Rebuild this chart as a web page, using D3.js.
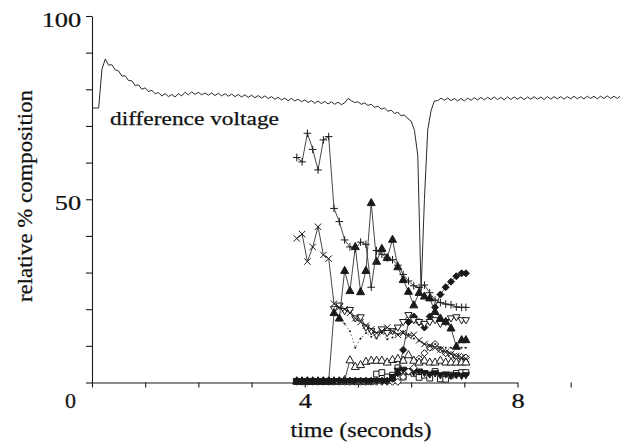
<!DOCTYPE html>
<html><head><meta charset="utf-8">
<script src="https://cdn.jsdelivr.net/npm/d3@7"></script>
<style>
body{margin:0;background:#fff}
svg{display:block}
text{font-family:"Liberation Serif","Times New Roman",serif;fill:#111;stroke:#111;stroke-width:0.25px}
</style>
</head><body>
<svg id="c" width="620" height="443"></svg>
<script>
// ---------- data ----------
const voltStart = 0, voltStep = 0.0625;   // sampling grid of the voltage trace (s)
const voltage = [
74.9,74.9,74.9,85.5,88.3,86.6,86.7,85.3,85.0,83.6,83.7,82.4,82.3,81.0,81.2,80.0,
80.4,79.4,79.7,78.8,79.1,78.2,78.8,78.0,78.6,77.9,78.8,78.2,79.2,78.5,79.3,78.6,
79.2,78.5,79.0,78.4,79.0,78.3,78.9,78.2,78.8,78.1,78.7,78.0,78.6,77.9,78.5,77.8,
78.4,77.7,78.3,77.6,78.2,77.5,78.0,77.3,77.8,77.1,77.6,76.9,77.5,76.8,77.3,76.6,
77.1,76.4,76.9,76.2,76.8,76.1,76.7,76.0,76.6,75.9,76.5,75.8,76.3,77.5,76.9,76.4,
76.6,75.9,76.3,75.6,75.9,75.1,75.4,74.6,74.9,74.0,74.3,73.4,73.7,72.8,73.0,72.0,
71.3,68.8,62.0,25.0,50.0,69.0,74.2,76.8,76.9,77.6,77.0,77.6,76.9,77.5,76.8,77.5,
76.8,77.6,77.0,77.7,77.1,77.8,77.1,77.8,77.2,77.9,77.2,77.8,77.1,77.9,77.2,77.9,
77.3,77.9,77.2,77.9,77.3,78.0,77.3,77.9,77.2,78.0,77.3,78.0,77.4,78.0,77.3,78.0,
77.4,78.1,77.4,78.0,77.4,78.1,77.5,78.1,77.4,78.1,77.5,78.2,77.5,78.1,77.5,78.2
];
const compTime = [3.85,3.95,4.05,4.15,4.25,4.35,4.45,4.55,4.65,4.75,4.85,4.95,5.05,5.15,5.25,5.35,
  5.45,5.55,5.65,5.75,5.85,5.95,6.05,6.15,6.25,6.35,6.45,6.55,6.65,6.75,6.85,6.95,7.03];
const plusSeries = [61.4,60.2,68,63.6,58,66.2,67.1,47.5,43.9,38.9,37,36.5,38.3,37.7,26,36,35,34,33.5,32,29.5,27.7,26.4,25.9,26.6,24.5,22.5,21.8,21.4,21.2,20.6,20.5,20.5];
const crossSeries = [39.3,40.5,33,37,42.5,34.8,33.8,21.5,20.5,20,19,17.5,16.5,15.5,14.5,13.5,14,15,14,13,13.5,12.7,13,11.5,10.5,10,9.5,9,8.3,7.8,7.2,6.8,6.5];
const triUpFilled = [0.3,0.3,0.3,0.3,0.3,0.3,0.3,19,17.5,30.5,25,37,24.7,30.5,49,33,36.5,34,39,31.5,28,24.8,21.1,24.5,23.5,23,19.3,17.5,16.6,14.8,9.8,11.6,11.6];
const triDownOpen = [null,null,null,null,null,null,null,20,21,19.5,19.8,17.5,17.8,15,14,13,14.5,13.5,14,15,16.5,18.4,17,16.5,16,16.5,17,16,16.5,17.5,17.8,17,17];
const dotSeries = [null,null,null,null,null,null,null,null,17,16,14,9.5,12,13.5,12.5,12,13.5,11.8,12.3,13.2,14,13.2,12,11.4,10.5,10,10.5,9.5,9.5,9.5,9.5,9.5,9.5];
const triUpOpen = [0.4,0.4,0.4,0.4,0.4,0.4,0.4,0.4,0.4,0.7,6.1,4.3,4.8,5.7,6,6,6,5.5,6.2,6.5,6,7.5,6,5.5,6,5.5,5.5,6,5.5,5.5,5.5,5.5,5.5];
const diamondFilled = [0.5,0.5,0.5,0.5,0.5,0.5,0.5,0.5,0.5,0.5,0.5,0.5,0.5,0.5,0.5,0.5,0.5,0.5,1,2.5,8.9,16.5,18,16.5,15,18,20.5,24,26,27.5,29,29.8,29.8];
const diamondOpen = [0.2,0.2,0.2,0.2,0.2,0.2,0.2,0.2,0.2,0.2,0.2,0.2,0.2,0.2,0.2,0.2,0.2,0.2,0.2,0.2,1.5,3,4,6.5,8,9.5,10.5,9,8,7.5,7,7,6.8];
const squareOpen = [0.3,0.3,0.3,0.3,0.3,0.3,0.3,0.3,0.3,0.3,0.3,0.3,0.3,0.3,0.3,2.3,2.7,1.5,2,4,1.5,3,2.5,1.4,2,1.2,3,1,0.9,2,2.5,2.7,2.7];
const triDownFilled = [0.4,0.4,0.4,0.4,0.4,0.4,0.4,0.4,0.4,0.4,0.4,0.4,0.4,0.4,0.4,0.4,0.4,0.4,1.5,3.2,3.5,3,2.8,3,2.6,2.2,2.5,2,2.2,1.8,2,1.8,2];

const yTickValues = [0,10,20,30,40,50,60,70,80,90,100];
const yTickLabels = {50:"50",100:"100"};
const xTickValues = [0,1,2,3,4,5,6,7,8,9,10];
const xTickLabels = {4:"4",8:"8"};
const originLabel = "0";
const curveLabel = "difference voltage";
const xTitle = "time (seconds)";
const yTitle = "relative % composition";

// ---------- drawing ----------
const svg = d3.select("#c");
const x = d3.scaleLinear().domain([0, 8]).range([92, 517.5]);
const y = d3.scaleLinear().domain([0, 100]).range([382.5, 16]);
const ink = "#1a1a1a";

// axes
const gy = svg.append("g").attr("transform", `translate(${x(0)},0)`)
  .call(d3.axisLeft(y).tickValues(yTickValues).tickSize(6).tickSizeOuter(0)
    .tickFormat(d => yTickLabels[d] || ""));
const gx = svg.append("g").attr("transform", `translate(0,${y(0)})`)
  .call(d3.axisBottom(x).tickValues(xTickValues).tickSize(5).tickSizeOuter(0)
    .tickFormat(d => xTickLabels[d] || ""));
[gx, gy].forEach(g => {
  g.select(".domain").attr("stroke", ink).attr("stroke-width", 1.1);
  g.selectAll(".tick line").attr("stroke", ink).attr("stroke-width", 1.1);
  g.selectAll(".tick text").attr("font-size", 22);
});
gy.selectAll(".tick text").attr("x", -9).attr("dy", "0.47em").attr("transform", "scale(1.2,1)");
gx.selectAll(".tick text").attr("x", 0).attr("y", 10).attr("dy", "0.71em").attr("transform", "scale(1.2,1)");
svg.append("text").attr("x", x(0) - 21.5).attr("y", y(0) + 25.5)
  .attr("text-anchor", "middle").attr("font-size", 22)
  .attr("textLength", 11).attr("lengthAdjust", "spacingAndGlyphs").text(originLabel);

// voltage trace
const vData = voltage.map((v, i) => [voltStart + i * voltStep, v]);
svg.append("path").datum(vData)
  .attr("fill", "none").attr("stroke", "#2a2a2a").attr("stroke-width", 1)
  .attr("d", d3.line().x(d => x(d[0])).y(d => y(d[1])));

// composition series
const gray = "#333";
const shapes = {
  plus: "M-3.8,0H3.8M0,-3.8V3.8",
  cross: "M-3.2,-3.2L3.2,3.2M-3.2,3.2L3.2,-3.2",
  triUp: "M0,-4.4L4,2.7L-4,2.7Z",
  triDown: "M0,3.7L3.6,-2.5L-3.6,-2.5Z",
  diamond: "M0,-3.5L3.5,0L0,3.5L-3.5,0Z",
  square: "M-2.9,-2.9H2.9V2.9H-2.9Z"
};
const series = [
  {vals: squareOpen,   shape: "square",  fill: "#fff", dash: null},
  {vals: triDownFilled,shape: "triDown", fill: ink,    dash: null},
  {vals: diamondOpen,  shape: "diamond", fill: "#fff", dash: null},
  {vals: triUpOpen,    shape: "triUp",   fill: "#fff", dash: null},
  {vals: dotSeries,    shape: "dot",     fill: ink,    dash: "1.2,2.6"},
  {vals: diamondFilled,shape: "diamond", fill: ink,    dash: null},
  {vals: triDownOpen,  shape: "triDown", fill: "#fff", dash: null},
  {vals: crossSeries,  shape: "cross",   fill: "none", dash: null},
  {vals: triUpFilled,  shape: "triUp",   fill: ink,    dash: null},
  {vals: plusSeries,   shape: "plus",    fill: "none", dash: null}
];
const line = d3.line().defined(d => d[1] != null).x(d => x(d[0])).y(d => y(d[1]));
series.forEach(s => {
  const pts = compTime.map((t, i) => [t, s.vals[i]]);
  const g = svg.append("g");
  g.append("path").datum(pts).attr("fill", "none").attr("stroke", gray)
    .attr("stroke-width", 0.9).attr("stroke-dasharray", s.dash).attr("d", line);
  const m = g.selectAll(".m").data(pts.filter(d => d[1] != null)).enter();
  if (s.shape === "dot") {
    m.append("circle").attr("cx", d => x(d[0])).attr("cy", d => y(d[1])).attr("r", 1).attr("fill", ink);
  } else {
    m.append("path").attr("d", shapes[s.shape])
      .attr("transform", d => `translate(${x(d[0])},${y(d[1])})`)
      .attr("fill", s.fill).attr("stroke", ink).attr("stroke-width", 1);
  }
});

// texts
svg.append("text").attr("x", 110).attr("y", 125).attr("font-size", 19.5)
  .attr("textLength", 169).attr("lengthAdjust", "spacingAndGlyphs").text(curveLabel);
svg.append("text").attr("x", 361).attr("y", 437).attr("text-anchor", "middle")
  .attr("font-size", 20.5).attr("textLength", 141).attr("lengthAdjust", "spacingAndGlyphs").text(xTitle);
svg.append("text").attr("transform", "translate(32,196) rotate(-90)").attr("text-anchor", "middle")
  .attr("font-size", 22).attr("textLength", 212).attr("lengthAdjust", "spacingAndGlyphs").text(yTitle);
</script>
</body></html>
